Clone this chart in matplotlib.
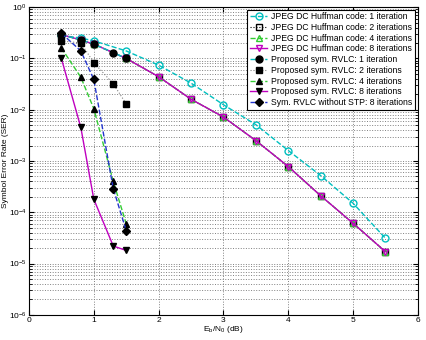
import numpy as np
import matplotlib
matplotlib.use('Agg')
import matplotlib.pyplot as plt

plt.rcParams['font.family'] = ['Liberation Sans', 'DejaVu Sans']
plt.rcParams['font.size'] = 6
plt.rcParams['mathtext.default'] = 'regular'

# JPEG DC Huffman code curves
huff_x = [0.5, 0.8, 1.0, 1.5, 2, 2.5, 3, 3.5, 4, 4.5, 5, 5.5]
huff_1 = [0.28, 0.25, 0.22, 0.14, 0.074, 0.033, 0.0125, 0.0051, 0.0016, 5.2e-4, 1.5e-4, 3.1e-5]
huff_2 = [0.29, 0.23, 0.19, 0.10, 0.044, 0.016, 0.0072, 0.0025, 7.8e-4, 2.1e-4, 6.1e-5, 1.7e-5]
huff_4 = [0.29, 0.23, 0.19, 0.10, 0.044, 0.016, 0.0072, 0.0025, 7.8e-4, 2.1e-4, 6.1e-5, 1.7e-5]
huff_8 = [0.29, 0.23, 0.19, 0.10, 0.044, 0.016, 0.0072, 0.0025, 7.8e-4, 2.1e-4, 6.1e-5, 1.7e-5]

# proposed symmetrical RVLC curves
rvlc_x = [0.5, 0.8, 1.0, 1.3, 1.5]
rvlc_1 = [0.29, 0.23, 0.19, 0.13, 0.10]
rvlc_2 = [0.22, 0.20, 0.083, 0.032, 0.013]
rvlc_4 = [0.16, 0.043, 0.0105, 4.0e-4, 6.0e-5]
rvlc_8 = [0.10, 0.0045, 1.8e-4, 2.2e-5, 1.8e-5]
nostp_8 = [0.31, 0.14, 0.039, 2.9e-4, 4.4e-5]

fig = plt.figure(figsize=(4.26, 3.4), dpi=100)
ax = fig.add_axes([0.068, 0.074, 0.913, 0.905])

ms = 5
ax.semilogy(huff_x, huff_1, 'c--', marker='o', mfc='none', mec='c', ms=ms, lw=1,
            label='JPEG DC Huffman code: 1 iteration')
ax.semilogy(huff_x, huff_2, 'k:', marker='s', mfc='none', mec='k', ms=4, lw=0.8,
            label='JPEG DC Huffman code: 2 iterations')
ax.semilogy(huff_x, huff_4, '--', color='#33cc33', marker='^', mfc='none', mec='#33cc33',
            ms=ms, lw=1, label='JPEG DC Huffman code: 4 iterations')
ax.semilogy(huff_x, huff_8, '-', color='m', marker='v', mfc='none', mec='m', ms=ms, lw=1,
            label='JPEG DC Huffman code: 8 iterations')

ax.semilogy(rvlc_x, rvlc_1, 'c--', marker='o', mfc='k', mec='k', ms=ms, lw=1,
            label='Proposed sym. RVLC: 1 iteration')
ax.semilogy(rvlc_x, rvlc_2, ':', color='gray', marker='s', mfc='k', mec='k', ms=4, lw=0.8,
            label='Proposed sym. RVLC: 2 iterations')
ax.semilogy(rvlc_x, rvlc_4, '--', color='#33cc33', marker='^', mfc='k', mec='k', ms=ms, lw=1,
            label='Proposed sym. RVLC: 4 iterations')
ax.semilogy(rvlc_x, rvlc_8, '-', color='m', marker='v', mfc='k', mec='k', ms=ms, lw=1,
            label='Proposed sym. RVLC: 8 iterations')
ax.semilogy(rvlc_x, nostp_8, '--', color='#2233cc', marker='D', mfc='k', mec='k', ms=4, lw=1,
            label='Sym. RVLC without STP: 8 iterations')

ax.set_xlim(0, 6)
ax.set_ylim(1e-6, 1)
ax.set_xticks(range(7))
ax.grid(True, which='major', ls=':', color='gray', lw=0.7)
ax.grid(True, which='minor', axis='y', ls=':', color='gray', lw=0.7)
ax.tick_params(which='both', direction='in', top=True, right=True, labelsize=6, pad=1.5)

ax.set_xlabel(r'E$_b$/N$_0$ (dB)', fontsize=6, labelpad=0)
ax.set_ylabel('Symbol Error Rate (SER)', fontsize=6, labelpad=0)

leg = ax.legend(loc='upper right', fontsize=6.2, fancybox=False, framealpha=1,
                edgecolor='k', borderpad=0.3, labelspacing=0.2, handlelength=2.0,
                handletextpad=0.5, borderaxespad=0.3)
leg.get_frame().set_linewidth(0.8)

fig.savefig('out.png', dpi=100)
